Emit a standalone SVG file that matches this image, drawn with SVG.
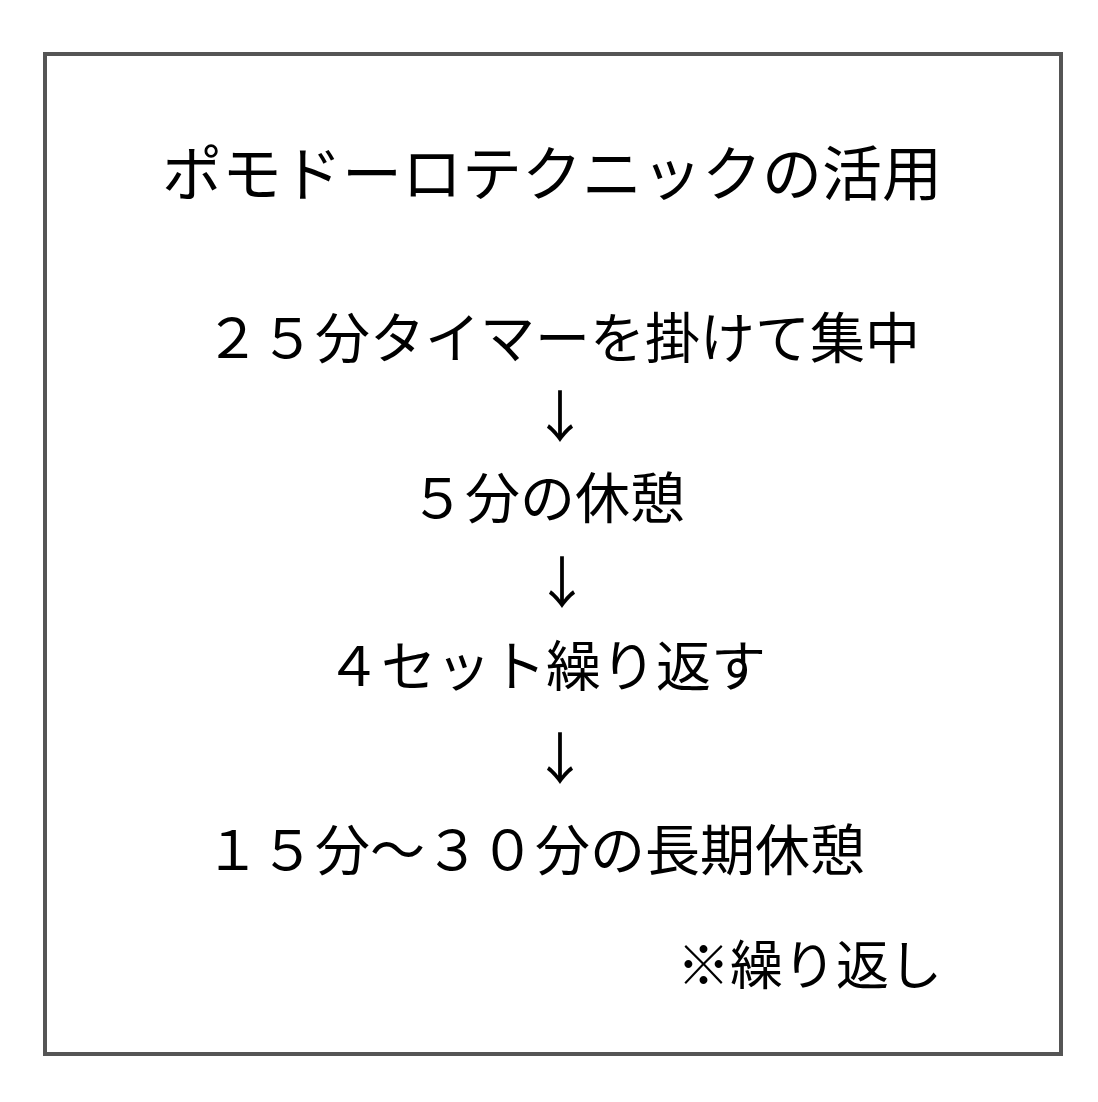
<svg xmlns="http://www.w3.org/2000/svg" width="1098" height="1102" viewBox="0 0 1098 1102">
<style>
.t{font-family:"Noto Sans CJK JP","Noto Sans CJK SC",sans-serif;fill:#000;font-weight:400}
.title{font-size:60px}
.body{font-size:55px}
.note{font-size:53px}
.arrow{font-size:56px}
</style>
<rect x="0" y="0" width="1098" height="1102" fill="#fff"/>
<rect id="frame" x="45" y="54" width="1016" height="1000" fill="#fff" stroke="#555" stroke-width="4"/>
<g id="title"><text class="t title" x="162" y="196">ポモドーロテクニックの活用</text></g>
<g id="step1"><text class="t body" x="205" y="358">２５分タイマーを掛けて集中</text></g>
<g id="step2"><text class="t body" x="410" y="518">５分の休憩</text></g>
<g id="step3"><text class="t body" x="326" y="686">４セット繰り返す</text></g>
<g id="step4"><text class="t body" x="205" y="870">１５分～３０分の長期休憩</text></g>
<g id="note"><text class="t note" x="677" y="985">※繰り返し</text></g>
<g id="connectors">
<text class="t arrow" x="560" y="437" text-anchor="middle">↓</text>
<text class="t arrow" x="562" y="603" text-anchor="middle">↓</text>
<text class="t arrow" x="560" y="779" text-anchor="middle">↓</text>
</g>
</svg>
